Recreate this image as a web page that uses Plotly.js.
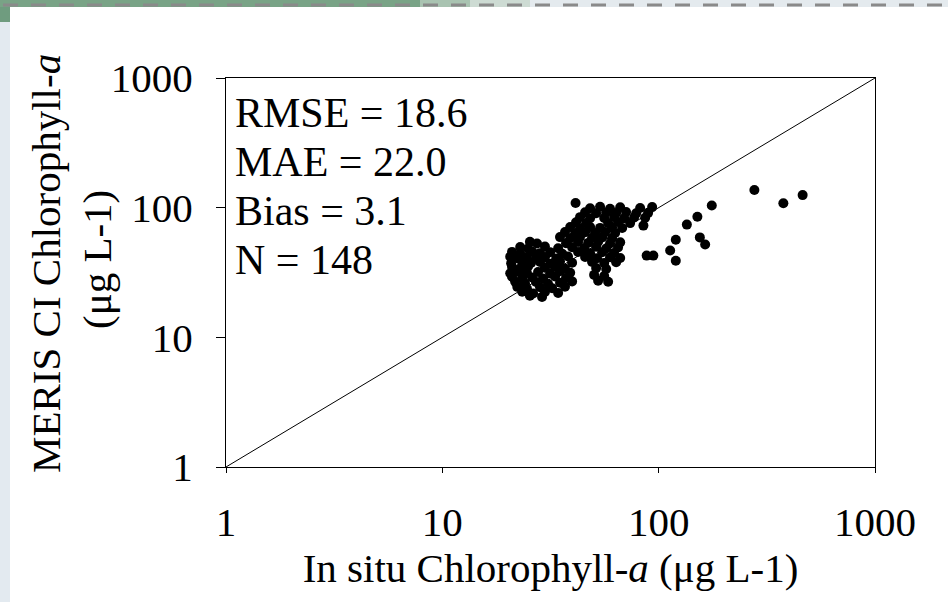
<!DOCTYPE html>
<html>
<head>
<meta charset="utf-8">
<script src="https://cdn.plot.ly/plotly-3.0.1.min.js"></script>
<style>html,body{margin:0;padding:0;background:#fff;}#chart{width:948px;height:602px;}</style>
</head>
<body>
<div id="chart"></div>
<script>
// In situ chlorophyll-a (x) and MERIS CI chlorophyll-a (y), µg L-1
const inSitu = [
  25.4, 27.4,
  22.9, 24.9, 29.8, 34.3,
  21.0, 22.9, 26.0, 28.3, 31.5, 35.8,
  20.6, 22.4, 24.6, 27.1, 29.8, 33.6, 38.1,
  20.8, 23.4, 25.7, 28.3, 31.5, 35.0, 39.8,
  21.0, 22.9, 24.9, 29.8, 33.2, 36.9,
  20.6, 22.4, 24.6, 27.7, 31.5, 35.0, 39.0,
  21.0, 23.4, 26.0, 29.2, 33.2, 37.3,
  21.7, 24.1, 27.1, 30.8, 35.0, 39.8,
  22.2, 24.6, 28.3, 32.2, 36.9,
  23.4, 26.3, 29.8, 34.3,
  25.4, 28.9,
  48.2, 53.6, 59.6, 66.4, 82.1, 93.3,
  45.7, 51.4, 57.2, 63.6, 70.7, 78.7, 89.4,
  43.3, 48.2, 56.0, 62.2, 69.3, 77.0, 86.6,
  41.5, 46.2, 58.4, 64.9, 73.8,
  39.0, 43.3, 48.2, 53.6, 60.9, 67.8,
  36.9, 41.1, 45.7, 50.8, 56.6, 62.9,
  35.0, 39.0, 43.3, 49.2, 54.8, 60.9,
  37.3, 42.4, 47.2, 52.5, 59.6, 66.4,
  39.8, 45.2, 51.4, 57.2, 64.9,
  42.4, 48.2, 54.8, 62.2,
  45.7, 51.9, 59.6, 66.4,
  49.2, 56.0, 63.6,
  51.4, 57.2,
  50.3, 56.0,
  52.5, 58.4,
  277, 377, 463, 176, 151, 135, 155, 164, 120, 113, 120, 88, 94.5, 41.3, 85
];
const meris = [
  54.6, 52.9,
  49.8, 48.5, 50.1, 48.7,
  45.6, 44.3, 45.9, 44.6, 45.3, 44.2,
  41.9, 40.5, 41.6, 40.8, 41.4, 40.6, 42.0,
  37.2, 38.3, 37.5, 38.1, 37.0, 38.4, 37.6,
  34.9, 34.1, 35.2, 34.4, 35.0, 33.8,
  31.2, 32.1, 31.4, 31.9, 31.0, 32.3, 31.5,
  29.3, 28.5, 29.0, 28.4, 29.5, 28.7,
  26.9, 26.1, 26.7, 25.9, 26.4, 27.0,
  24.5, 23.8, 24.3, 23.9, 24.6,
  22.5, 21.8, 22.4, 22.0,
  20.9, 20.5,
  99.0, 101.5, 98.2, 100.8, 99.5, 101.0,
  92.3, 90.6, 91.8, 90.9, 92.5, 90.4, 91.2,
  84.5, 82.9, 83.3, 84.8, 83.0, 84.1, 83.5,
  77.3, 75.9, 76.2, 77.6, 76.0,
  70.8, 69.5, 71.0, 69.8, 70.5, 69.6,
  64.8, 63.5, 64.6, 63.7, 65.0, 63.9,
  59.3, 58.1, 59.5, 58.4, 59.0, 58.2,
  53.2, 54.3, 53.5, 54.6, 53.0, 54.0,
  49.6, 48.7, 49.9, 48.4, 49.3,
  45.5, 44.6, 45.3, 44.8,
  41.6, 40.7, 41.5, 40.9,
  38.2, 37.4, 38.0,
  34.2, 33.6,
  30.3, 29.7,
  27.3, 26.8,
  137, 108, 125, 104, 85, 74, 59, 52, 56.5, 46.7, 39, 42.7, 42.7, 108.7, 72.7
];
const oneToOne = [1, 1000];
const tickValues = [1, 10, 100, 1000];
const tickLabels = ["1", "10", "100", "1000"];
const statLines = ["RMSE = 18.6", "MAE = 22.0", "Bias = 3.1", "N = 148"];
const yTitleLines = ["MERIS CI Chlorophyll-<i>a</i>", "(μg L-1)"];
const xTitle = "In situ Chlorophyll-<i>a</i> (μg L-1)";

const FONT = "Liberation Serif, Times New Roman, serif";
const FS = 41;

const traces = [
  {x: oneToOne, y: oneToOne, mode: "lines", line: {color: "#000", width: 1}, hoverinfo: "skip", showlegend: false},
  {x: inSitu, y: meris, mode: "markers", marker: {color: "#000", size: 10, symbol: "circle"}, showlegend: false}
];

const L = 226, R = 875, T = 78, B = 467, W = 948, H = 602;
const px = v => (v - L) / (R - L);
const py = v => (B - v) / (B - T);

const statY = [113, 162, 211, 260];
const annotations = statLines.map((s, i) => ({
  text: s, xref: "paper", yref: "paper", x: px(233), y: py(statY[i]),
  xanchor: "left", yanchor: "middle", showarrow: false,
  font: {family: FONT, size: 42, color: "#000"}
}));
const yTitleX = [46, 97];
const yTitleY = [264, 260];
yTitleLines.forEach((s, i) => annotations.push({
  text: s, xref: "paper", yref: "paper", x: px(yTitleX[i]), y: py(yTitleY[i]),
  xanchor: "center", yanchor: "middle", textangle: -90, showarrow: false,
  font: {family: FONT, size: FS, color: "#000"}
}));

const shapes = [
  {type: "rect", xref: "paper", yref: "paper", x0: px(0), x1: px(10), y0: py(H), y1: py(22), fillcolor: "#e3eaf0", line: {width: 0}, layer: "below"},
  {type: "rect", xref: "paper", yref: "paper", x0: px(0), x1: px(10), y0: py(22), y1: py(0), fillcolor: "#6f9c7f", line: {width: 0}, layer: "below"},
  {type: "rect", xref: "paper", yref: "paper", x0: px(0), x1: px(420), y0: py(7), y1: py(0), fillcolor: "#79a386", line: {width: 0}, layer: "below"},
  {type: "rect", xref: "paper", yref: "paper", x0: px(420), x1: px(470), y0: py(7), y1: py(0), fillcolor: "#a9c3b1", line: {width: 0}, layer: "below"},
  {type: "rect", xref: "paper", yref: "paper", x0: px(470), x1: px(530), y0: py(7), y1: py(0), fillcolor: "#cddbd3", line: {width: 0}, layer: "below"},
  {type: "rect", xref: "paper", yref: "paper", x0: px(530), x1: px(W), y0: py(7), y1: py(0), fillcolor: "#e4eaee", line: {width: 0}, layer: "below"},
  {type: "line", xref: "paper", yref: "paper", x0: px(3), x1: px(W), y0: py(5), y1: py(5), line: {color: "#8a8a8a", width: 3, dash: "15px,13px"}}
];

const axisCommon = {
  type: "log", range: [0, 3], tickmode: "array", tickvals: tickValues, ticktext: tickLabels,
  showgrid: false, zeroline: false, showline: true, linecolor: "#000", linewidth: 1,
  mirror: true, ticks: "outside", tickcolor: "#000", tickwidth: 1,
  tickfont: {family: FONT, size: FS, color: "#000"}
};

const layout = {
  width: W, height: H,
  margin: {l: L, r: W - R, t: T, b: H - B},
  paper_bgcolor: "#fff", plot_bgcolor: "#fff",
  showlegend: false,
  xaxis: Object.assign({}, axisCommon, {
    ticklen: 5, ticklabelstandoff: 14,
    title: {text: xTitle, font: {family: FONT, size: FS, color: "#000"}, standoff: 8}
  }),
  yaxis: Object.assign({}, axisCommon, {
    ticklen: 9, ticklabelstandoff: 15
  }),
  annotations: annotations,
  shapes: shapes
};

Plotly.newPlot("chart", traces, layout, {displayModeBar: false, staticPlot: true});
</script>
</body>
</html>
